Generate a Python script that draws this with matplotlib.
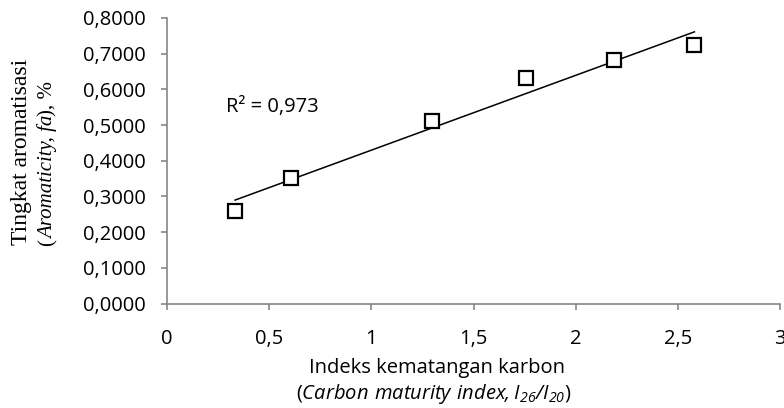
import numpy as np
import matplotlib
matplotlib.use("Agg")
import matplotlib.pyplot as plt

plt.rcParams['font.family'] = ['Open Sans', 'DejaVu Sans']
plt.rcParams['mathtext.fontset'] = 'custom'
plt.rcParams['mathtext.rm'] = 'Open Sans'
plt.rcParams['mathtext.sf'] = 'Open Sans:italic'

# data
cmi = [0.333, 0.607, 1.297, 1.759, 2.190, 2.581]
fa = [0.260, 0.351, 0.510, 0.631, 0.683, 0.723]
r2_text = "R² = 0,973"
xticks = [0, 0.5, 1, 1.5, 2, 2.5, 3]
xtick_labels = ["0", "0,5", "1", "1,5", "2", "2,5", "3"]
yticks = [0.0, 0.1, 0.2, 0.3, 0.4, 0.5, 0.6, 0.7, 0.8]
ytick_labels = ["0,0000", "0,1000", "0,2000", "0,3000", "0,4000",
                "0,5000", "0,6000", "0,7000", "0,8000"]

W, H = 784, 408
fig = plt.figure(figsize=(W / 100, H / 100), dpi=100)
ax = fig.add_axes([167 / W, 1 - 303.5 / H, (780 - 167) / W, (303.5 - 18) / H])

gray = '#868686'

# linear trend line
k, b = np.polyfit(cmi, fa, 1)
xl = np.array([min(cmi), max(cmi)])
ax.plot(xl, k * xl + b, color='black', lw=1.1, zorder=2)

ax.plot(cmi, fa, linestyle='none', marker='s', markersize=9.5,
        markerfacecolor='white', markeredgecolor='black', markeredgewidth=1.6,
        zorder=3)

ax.text(0.289, 0.551, r2_text, fontsize=14.5, va='center', ha='left')

ax.set_xlim(0, 3)
ax.set_ylim(0, 0.8)
ax.set_xticks(xticks)
ax.set_xticklabels(xtick_labels)
ax.set_yticks(yticks)
ax.set_yticklabels(ytick_labels)

for s in ['top', 'right']:
    ax.spines[s].set_visible(False)
for s in ['left', 'bottom']:
    ax.spines[s].set_color(gray)
    ax.spines[s].set_linewidth(1.2)
ax.tick_params(axis='both', colors=gray, labelcolor='black', width=1.2,
               length=4.3, direction='out', labelsize=14.5)
ax.tick_params(axis='y', pad=11)
ax.tick_params(axis='x', pad=14)

# axis titles
fig.text(437 / W, 1 - 367.5 / H, "Indeks kematangan karbon",
         fontsize=14.5, ha='center', va='center')
fig.text(434 / W, 1 - 394 / H,
         r"($\mathsf{Carbon\ maturity\ index,I_{26}/I_{20}}$)",
         fontsize=14.5, ha='center', va='center')

fig.text(22 / W, 1 - 152 / H, "Tingkat aromatisasi", family='Liberation Serif',
         fontsize=17, rotation=90, ha='center', va='center')

# second line of the y title: mixed upright / italic pieces stacked upwards
pieces = [("(", 'normal'), ("Aromaticity, fa", 'italic'), ("), %", 'normal')]
fig.canvas.draw()
rend = fig.canvas.get_renderer()
objs = []
total = 0
for txt, st in pieces:
    t = fig.text(48 / W, 0, txt, family='Liberation Serif', style=st,
                 fontsize=15, rotation=90, ha='center', va='bottom')
    bb = t.get_window_extent(rend)
    objs.append((t, bb.height))
    total += bb.height
y0 = (H - 163.5) - total / 2
for t, h in objs:
    t.set_y(y0 / H)
    y0 += h

fig.savefig("out.png", dpi=100)
